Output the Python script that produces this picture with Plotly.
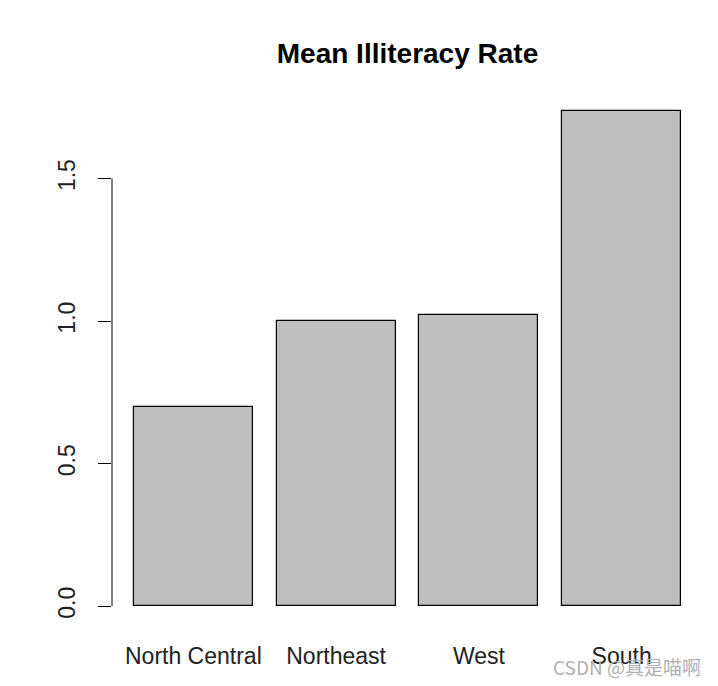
import plotly.graph_objects as go

regions = ["North Central", "Northeast", "West", "South"]
illiteracy_mean = [0.7, 1.0, 1.023, 1.7375]
y_ticks = [0.0, 0.5, 1.0, 1.5]
y_tick_labels = ["0.0", "0.5", "1.0", "1.5"]

# R barplot layout: width 1, space 0.2
centers = [0.7 + 1.2 * i for i in range(len(regions))]
x_lo, x_hi = 0.2, 0.2 + 1.2 * len(regions) - 0.2
pad = 0.04 * (x_hi - x_lo)
ymax = max(illiteracy_mean)
ypad = 0.04 * ymax

fig = go.Figure(go.Bar(
    x=centers, y=illiteracy_mean, width=1.0,
    marker=dict(color="#BEBEBE", line=dict(color="black", width=1.2)),
    hoverinfo="y",
))

fig.update_layout(
    width=718, height=686,
    margin=dict(l=112, r=15, t=91, b=60),
    paper_bgcolor="white", plot_bgcolor="white",
    font=dict(family="Liberation Sans, Arial, sans-serif", size=23, color="black"),
    title=dict(text="<b>Mean Illiteracy Rate</b>", x=0.5, xanchor="center",
               y=1 - 53 / 686, yanchor="middle", xref="paper",
               font=dict(size=28, color="black")),
    showlegend=False,
    bargap=0,
)
fig.update_xaxes(
    range=[x_lo - pad, x_hi + pad], tickvals=centers, ticktext=regions,
    showgrid=False, zeroline=False, showline=False,
    ticks="outside", ticklen=9, tickcolor="rgba(0,0,0,0)",
    tickfont=dict(size=23, color="#222222"),
)
fig.update_yaxes(
    range=[-ypad, ymax + ypad], tickvals=y_ticks, ticktext=y_tick_labels,
    tickangle=-90, showgrid=False, zeroline=False, showline=False,
    ticks="outside", ticklen=13, tickcolor="black", tickwidth=1,
    ticklabelstandoff=14,
    tickfont=dict(size=23, color="#222222"),
)
fig.add_shape(type="line", xref="paper", yref="y", x0=0, x1=0,
              y0=min(y_ticks), y1=max(y_ticks), line=dict(color="black", width=1))
fig.add_annotation(text="CSDN @真是喵啊", xref="paper", yref="paper",
                   x=1.0, y=-0.075, xanchor="right", yanchor="middle", showarrow=False,
                   font=dict(family="Noto Sans CJK SC, sans-serif", size=19, color="#B0B0B0"))

fig.write_html("out.html")
